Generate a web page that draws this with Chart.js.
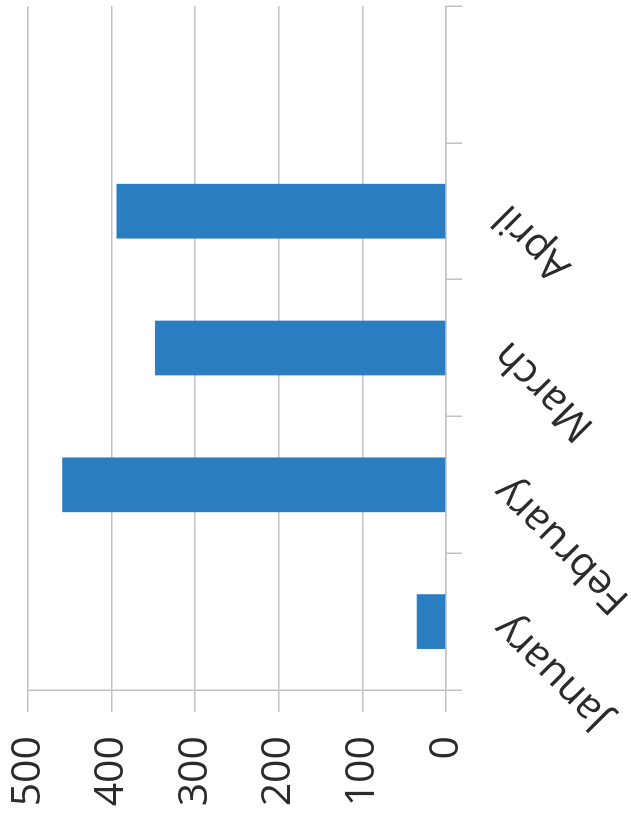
<!DOCTYPE html>
<html>
<head>
<meta charset="utf-8">
<title>Monthly totals</title>
<script src="https://cdn.jsdelivr.net/npm/chart.js@4.4.0/dist/chart.umd.min.js"></script>
<style>
  html, body { margin: 0; padding: 0; background: #fff; overflow: hidden; }
  /* chart is laid out as a column chart, then turned a quarter turn to the left */
  #wrap {
    position: absolute;
    left: 0;
    top: 0;
    width: 818px;
    height: 631px;
    transform-origin: 0 0;
    transform: translate(0, 818px) rotate(-90deg);
  }
</style>
</head>
<body>
<div id="wrap"><canvas id="chart" width="818" height="631"></canvas></div>
<script>
// categories (last slot is left empty)
const months = ['January', 'February', 'March', 'April', ''];
// bar values
const totals = [35, 459, 348, 394, null];
// value axis range
const axisMin = 0;
const axisMax = 500;
const axisStep = 100;

const lineGrey = '#c2c2c2';
const textGrey = '#2b2b2b';
const barBlue = '#2a7dc0';
const labelFont = { family: 'Open Sans', size: 41 };

function renderChart() {
    let element = document.getElementById('chart');
    let options = {
        responsive: false,
        animation: false,
        layout: { padding: { top: 28, right: 6, left: 0, bottom: 0 } },
        plugins: {
            legend: { display: false },
            tooltip: { enabled: false }
        },
        scales: {
            x: {
                offset: true,
                grid: {
                    offset: true,
                    drawOnChartArea: false,
                    drawTicks: true,
                    tickLength: 16,
                    color: lineGrey,
                    lineWidth: 1.5
                },
                border: { display: true, color: lineGrey, width: 1.5 },
                ticks: {
                    autoSkip: false,
                    minRotation: 45,
                    maxRotation: 45,
                    padding: 22,
                    color: textGrey,
                    font: labelFont
                },
                afterFit: function(scale) { scale.height = 185; }
            },
            y: {
                min: axisMin,
                max: axisMax,
                ticks: {
                    stepSize: axisStep,
                    padding: 24,
                    color: textGrey,
                    font: labelFont
                },
                grid: {
                    color: lineGrey,
                    lineWidth: 1.5,
                    tickLength: 22
                },
                border: { display: true, color: lineGrey, width: 1.5 },
                afterFit: function(scale) {
                    // fixed axis width; end labels may run past the plot edge
                    scale.width = 128;
                    scale.paddingTop = 0;
                    scale.paddingBottom = 0;
                }
            }
        }
    };
    let chart_options = {
        type: 'bar',
        data: {
            labels: months,
            datasets: [{
                label: 'Total',
                backgroundColor: barBlue,
                borderWidth: 0,
                barPercentage: 0.4,
                categoryPercentage: 1.0,
                data: totals
            }]
        },
        options: options
    };
    new Chart(element, chart_options);
}

renderChart();
</script>
</body>
</html>
